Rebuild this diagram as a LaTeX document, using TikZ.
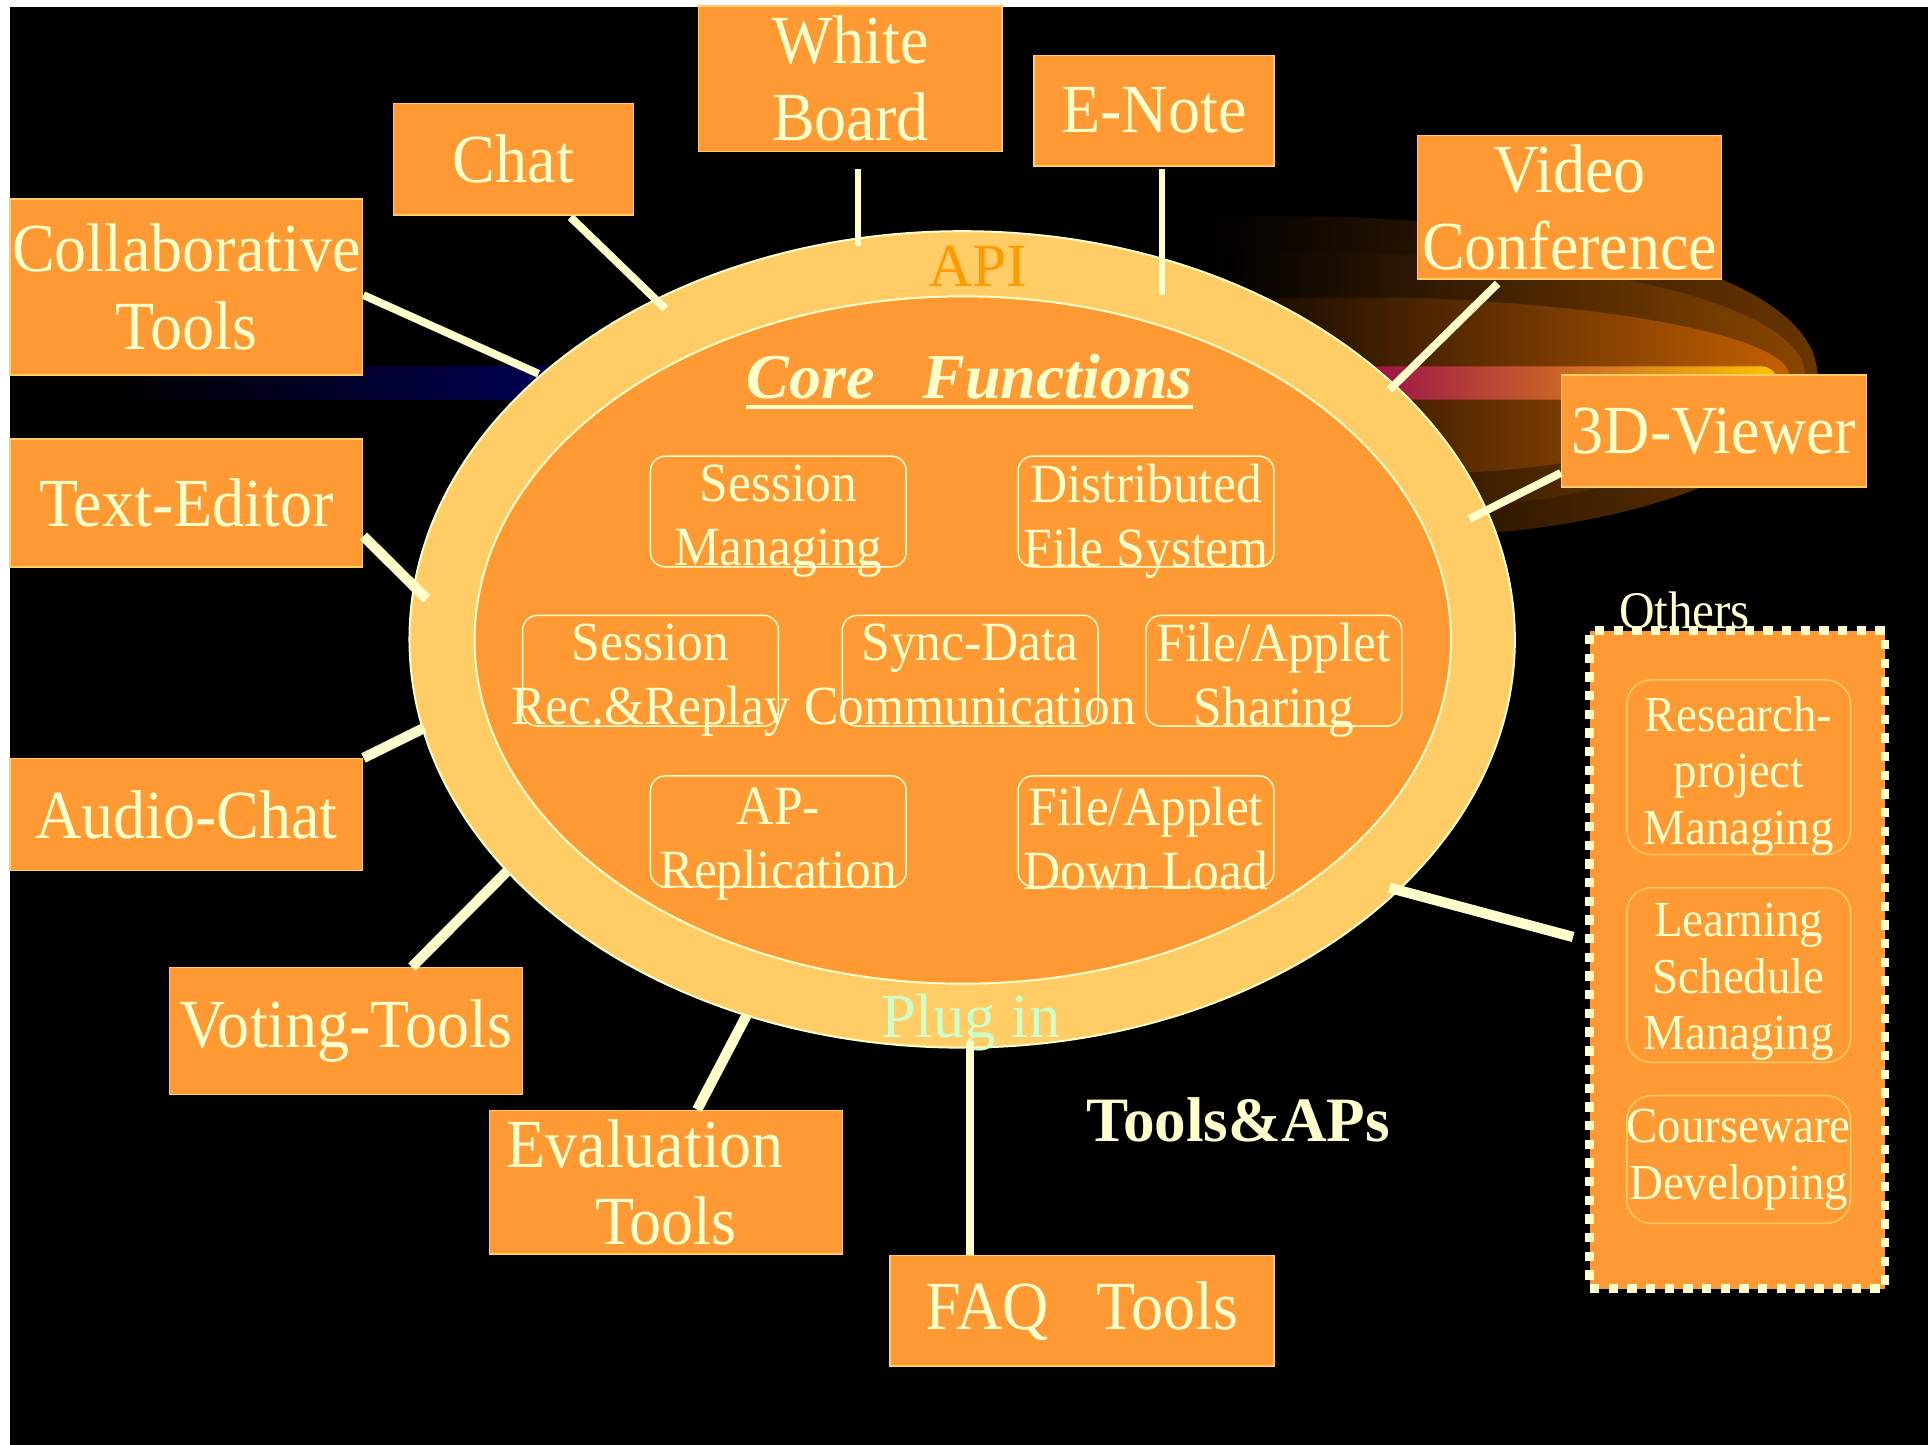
\documentclass[tikz,border=0pt]{standalone}
\usepackage{fontspec}
\setmainfont{Liberation Serif}
\newfontfamily\narrowfont[FakeStretch=0.93]{Liberation Serif}
\usetikzlibrary{calc}
\definecolor{boxorange}{HTML}{FF9933}
\definecolor{ringyellow}{HTML}{FFCC66}
\definecolor{paleyellow}{HTML}{FFFFCC}
\definecolor{apiorange}{HTML}{FF9900}
\definecolor{plugreen}{HTML}{CCFFCC}
\definecolor{navyglow}{HTML}{000050}
\definecolor{glowdark}{HTML}{6A3500}
\definecolor{glowmid}{HTML}{8A4600}
\definecolor{glowlight}{HTML}{C46000}
\definecolor{glowdeep}{HTML}{1A0C00}
\definecolor{bandred}{HTML}{9A0F4A}
\definecolor{bandorange}{HTML}{E86010}
\definecolor{bandyellow}{HTML}{FFC400}

\begin{document}
\begin{tikzpicture}[x=0.5pt, y=-0.5pt,
                    line cap=butt]
    \tikzstyle{tool}=[rectangle, fill=boxorange, draw=ringyellow, line width=0.6pt, text=paleyellow, font=\narrowfont\fontsize{28}{31.5}\selectfont, align=center, inner sep=0pt]
    \tikzstyle{coreframe}=[rectangle, rounded corners=6pt, draw=paleyellow, line width=0.6pt, inner sep=0pt, minimum width=104pt, minimum height=45pt]
    \tikzstyle{coretext}=[text=paleyellow, font=\narrowfont\fontsize{22.5}{26}\selectfont, align=center, inner sep=0pt, yshift=-3.8pt]
    \tikzstyle{otherframe}=[coreframe, draw=ringyellow, rounded corners=10pt, minimum width=91pt]
    \tikzstyle{othertext}=[coretext, font=\narrowfont\fontsize{20.5}{23}\selectfont]
    \tikzstyle{caption}=[text=paleyellow, anchor=base, inner sep=0pt]
    \tikzstyle{link}=[draw=paleyellow, line width=3.2pt]
    \tikzstyle{thicklink}=[link, line width=4.2pt]

    % slide background
    \useasboundingbox (0,0) rectangle (1568,1175);
    \fill[white] (0,0) rectangle (1568,1175);
    \fill[black] (8,6) rectangle (1568,1175);

    % glow behind the ring
    \shade[left color=black, right color=navyglow] (95,298) rectangle (445,325);
    \shade[left color=black, right color=glowdark] (985,176) -- (1080,176) .. controls (1380,186) and (1478,250) .. (1478,305) .. controls (1478,372) and (1350,426) .. (1190,435) -- (985,435) -- cycle;
    \shade[left color=black, right color=glowmid] (995,205) -- (1100,205) .. controls (1360,214) and (1468,262) .. (1468,305) .. controls (1468,352) and (1330,404) .. (1180,414) -- (995,414) -- cycle;
    \shade[left color=glowdeep, right color=glowlight] (1030,242) -- (1150,242) .. controls (1350,250) and (1455,280) .. (1455,305) .. controls (1455,336) and (1330,376) .. (1200,384) -- (1030,384) -- cycle;
    \shade[left color=bandred, middle color=bandorange, right color=bandyellow, rounded corners=6pt] (1110,298) rectangle (1445,325);

    % API ring and core
    \draw[fill=ringyellow, draw=paleyellow, line width=0.8pt] (782.5,520) ellipse [x radius=449.5, y radius=332];
    \draw[fill=boxorange, draw=paleyellow, line width=0.8pt] (783,520.5) ellipse [x radius=397, y radius=279.5];

    \node[text=apiorange, font=\fontsize{25}{25}\selectfont, anchor=base, inner sep=0pt] (api) at (795,233) {API};
    \node[text=plugreen, font=\fontsize{25.5}{25.5}\selectfont, anchor=base, inner sep=0pt] (plugin) at (789.5,844) {Plug in};

    \node[caption, font=\bfseries\itshape\fontsize{26}{26}\selectfont] (corefn) at (788.5,324) {Core\ \ \ Functions};
    \draw[paleyellow, line width=1.3pt] ($(corefn.base west)+(0,7)$) -- ($(corefn.base east)+(0,7)$);

    \node[coreframe, label={[coretext]center:{Session\\Managing}}] (sessmgr) at (633,416) {};
    \node[coreframe, label={[coretext]center:{Distributed\\File System}}] (dfs) at (932,416) {};
    \node[coreframe, label={[coretext]center:{Session\\\makebox[0pt]{Rec.\&Replay}}}] (sessrec) at (529,545.5) {};
    \node[coreframe, label={[coretext]center:{Sync-Data\\\makebox[0pt]{Communication}\vphantom{g}}}] (syncdata) at (789,545.5) {};
    \node[coreframe, label={[coretext]center:{File/Applet\\Sharing}}] (fileshare) at (1036,545.5) {};
    \node[coreframe, label={[coretext, yshift=-1.5pt]center:{AP-\\Replication}}] (aprepl) at (633,676) {};
    \node[coreframe, label={[coretext, yshift=-1.5pt]center:{File/Applet\\Down Load\vphantom{g}}}] (filedown) at (932,676) {};

    % tools round the ring
    \node[tool, minimum width=143.5pt, minimum height=71.5pt] (collab)    at (151.5,233.5) {Collaborative\\Tools};
    \node[tool, minimum width=97.5pt,  minimum height=45.5pt] (chat)      at (417.5,129.5) {Chat};
    \node[tool, minimum width=123.5pt, minimum height=59pt]   (wboard)    at (691.5,64)    {White\\Board};
    \node[tool, minimum width=97.5pt,  minimum height=45pt]   (enote)     at (938.5,90)    {E-Note};
    \node[tool, minimum width=123.5pt, minimum height=58.5pt] (video)     at (1276.5,168.5) {Video\\Conference};
    \node[tool, minimum width=124pt,   minimum height=45.5pt] (viewer)    at (1394,350.5)  {3D-Viewer};
    \node[tool, minimum width=143.5pt, minimum height=52pt]   (texted)    at (151.5,409)   {Text-Editor};
    \node[tool, minimum width=143.5pt, minimum height=45.5pt] (audio)     at (151.5,662.5) {Audio-Chat};
    \node[tool, minimum width=143.5pt, minimum height=51.5pt] (voting)    at (281.5,838.5) {Voting-Tools};
    \node[tool, minimum width=143.5pt, minimum height=58.5pt] (evaltools) at (541.5,961.5) {Evaluation\hspace*{0.6em}\\Tools};
    \node[tool, minimum width=156pt,   minimum height=45pt]   (faq)       at (880,1066)    {FAQ~~~Tools};

    % others
    \node[rectangle, fill=boxorange, draw=paleyellow, line width=3.6pt, dash pattern=on 3.8pt off 3.8pt, minimum width=120pt, minimum height=267.5pt] (others) at (1413,780.5) {};
    \node[caption, font=\narrowfont\fontsize{21.5}{22}\selectfont] (othersname) at (1370,511) {Others};
    \node[otherframe, minimum height=71pt, label={[othertext, yshift=0.4pt]center:{Research-\\project\\Managing}}] (research) at (1414,624) {};
    \node[otherframe, minimum height=71pt, label={[othertext, yshift=1pt]center:{Learning\\Schedule\\Managing}}] (learning) at (1414,793) {};
    \node[otherframe, minimum height=52pt, label={[othertext, yshift=3.8pt]center:{Courseware\\Developing}}] (courseware) at (1414,943) {};

    \node[caption, font=\bfseries\fontsize{25.7}{26}\selectfont] (toolsaps) at (1007,928.5) {Tools\&APs};

    % connectors
    \coordinate (ecollab)  at (438,304);
    \coordinate (echat)    at (541,251);
    \coordinate (ewboard)  at (698,200);
    \coordinate (eenote)   at (945,240);
    \coordinate (evideo)   at (1130,317);
    \coordinate (eviewer)  at (1195,422);
    \coordinate (etexted)  at (347,487);
    \coordinate (eaudio)   at (345,592);
    \coordinate (evoting)  at (412,709);
    \coordinate (eeval)    at (607,826);
    \coordinate (efaq)     at (789,847);
    \coordinate (eothers)  at (1130,722);

    \draw[link] ($(collab.east)+(0,6.5)$) -- (ecollab);
    \draw[link] ($(chat.south)+(46.5,1)$) -- (echat);
    \draw[link, line width=2.6pt] ($(wboard.south)+(6.5,14)$) -- (ewboard);
    \draw[link, line width=2.6pt] ($(enote.south)+(6.5,2)$) -- (eenote);
    \draw[link] ($(video.south)+(-58.5,3)$) -- (evideo);
    \draw[link] ($(viewer.south west)+(0,-12)$) -- (eviewer);
    \draw[thicklink] ($(texted.east)+(0,27)$) -- (etexted);
    \draw[thicklink] (audio.north east) -- (eaudio);
    \draw[thicklink] ($(voting.north)+(53.5,0)$) -- (evoting);
    \draw[thicklink] ($(evaltools.north)+(25.5,0)$) -- (eeval);
    \draw[link] ($(faq.north)+(-91,0)$) -- (efaq);
    \draw[thicklink] ($(others.west)+(-10,-18.5)$) -- (eothers);
\end{tikzpicture}
\end{document}
